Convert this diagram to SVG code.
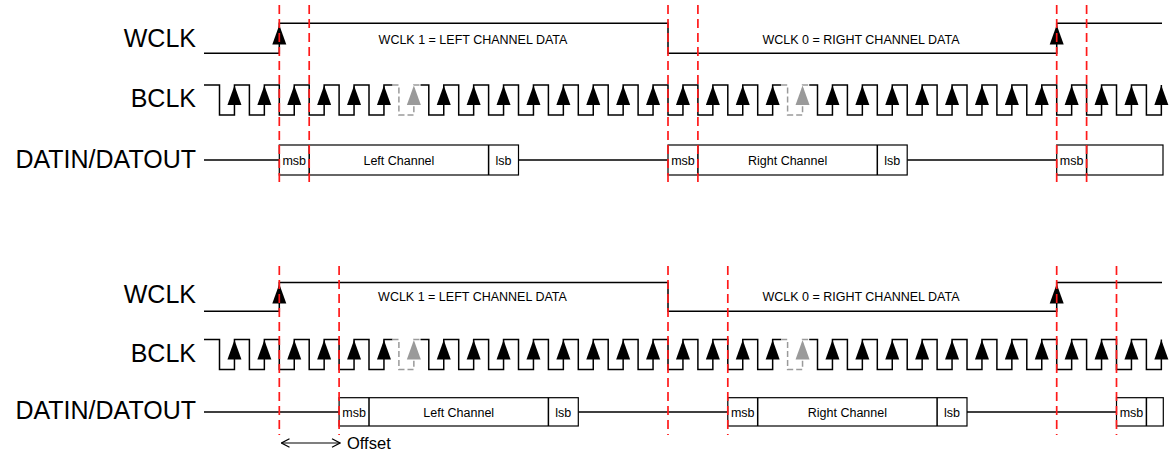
<svg xmlns="http://www.w3.org/2000/svg" xmlns:xlink="http://www.w3.org/1999/xlink" width="1171" height="454" viewBox="0 0 1171 454">
<style>
.sig{fill:none;stroke:#000;stroke-width:1.5}
.gry{fill:none;stroke:#9a9a9a;stroke-width:1.5;stroke-dasharray:6 3}
.box{fill:#fff;stroke:#000;stroke-width:1.2}
.red{stroke:#ff1a1a;stroke-width:1.7;stroke-dasharray:9 5}
.lbl{font-family:"Liberation Sans",Arial,sans-serif;font-size:25px;fill:#000;text-anchor:end}
.sm{font-family:"Liberation Sans",Arial,sans-serif;font-size:12.5px;fill:#000;text-anchor:middle}
.off{font-family:"Liberation Sans",Arial,sans-serif;font-size:16.5px;fill:#000}
</style>
<defs>
<path id="up" d="M0,0.5 L7,20 L-7,20 Z" fill="#000"/>
<path id="upg" d="M0,0.5 L7,20 L-7,20 Z" fill="#9a9a9a"/>
<path id="upw" d="M0,0 L7,19.5 L-7,19.5 Z" fill="#000"/>
<marker id="oa" viewBox="0 0 10 10" refX="9" refY="5" markerWidth="10" markerHeight="10" markerUnits="userSpaceOnUse" orient="auto-start-reverse">
<path d="M1,0.8 L9,5 L1,9.2" fill="none" stroke="#000" stroke-width="1.2"/>
</marker>
<g id="bclk">
<path class="sig" d="M204,0 H219.5 V30 H234.45 V0 H249.4 V30 H264.35 V0 H279.3 V30 H294.25 V0 H309.2 V30 H324.15 V0 H339.1 V30 H354.05 V0 H369 V30 H383.95 V0 H392.5"/>
<path class="gry" d="M392.5,0 H398.9 V30 H413.85 V0 H420.5"/>
<path class="sig" d="M420.5,0 H428.8 V30 H443.75 V0 H458.7 V30 H473.65 V0 H488.6 V30 H503.55 V0 H518.5 V30 H533.45 V0 H548.4 V30 H563.35 V0 H578.3 V30 H593.25 V0 H608.2 V30 H623.15 V0 H638.1 V30 H653.05 V0 H668 V30 H682.95 V0 H697.9 V30 H712.85 V0 H727.8 V30 H742.75 V0 H757.7 V30 H772.65 V0 H781.2"/>
<path class="gry" d="M781.2,0 H787.6 V30 H802.55 V0 H809.2"/>
<path class="sig" d="M809.2,0 H817.5 V30 H832.45 V0 H847.4 V30 H862.35 V0 H877.3 V30 H892.25 V0 H907.2 V30 H922.15 V0 H937.1 V30 H952.05 V0 H967 V30 H981.95 V0 H996.9 V30 H1011.85 V0 H1026.8 V30 H1041.75 V0 H1056.7 V30 H1071.65 V0 H1086.6 V30 H1101.55 V0 H1116.5 V30 H1131.45 V0 H1146.4 V30 H1161.35 V0"/>
<use href="#up" x="234.45"/><use href="#up" x="264.35"/><use href="#up" x="294.25"/><use href="#up" x="324.15"/><use href="#up" x="354.05"/><use href="#up" x="383.95"/>
<use href="#upg" x="413.85"/>
<use href="#up" x="443.75"/><use href="#up" x="473.65"/><use href="#up" x="503.55"/><use href="#up" x="533.45"/><use href="#up" x="563.35"/><use href="#up" x="593.25"/><use href="#up" x="623.15"/><use href="#up" x="653.05"/><use href="#up" x="682.95"/><use href="#up" x="712.85"/><use href="#up" x="742.75"/><use href="#up" x="772.65"/>
<use href="#upg" x="802.55"/>
<use href="#up" x="832.45"/><use href="#up" x="862.35"/><use href="#up" x="892.25"/><use href="#up" x="922.15"/><use href="#up" x="952.05"/><use href="#up" x="981.95"/><use href="#up" x="1011.85"/><use href="#up" x="1041.75"/><use href="#up" x="1071.65"/><use href="#up" x="1101.55"/><use href="#up" x="1131.45"/><use href="#up" x="1161.35"/>
</g>
</defs>
<rect width="1171" height="454" fill="#fff"/>

<g id="top">
<g id="top-labels">
<text class="lbl" x="196" y="47.3">WCLK</text>
<text class="lbl" x="196" y="107.3">BCLK</text>
<text class="lbl" x="196" y="168.3">DATIN/DATOUT</text>
</g>
<g id="top-wclk">
<path class="sig" d="M204,53.3 H279.3 V23.3 H668 V53.3 H1056.7 V23.3 H1162"/>
<use href="#upw" x="279.3" y="25"/>
<use href="#upw" x="1056.7" y="25"/>
<text class="sm" x="473" y="43.5">WCLK 1 = LEFT CHANNEL DATA</text>
<text class="sm" x="861" y="43.5">WCLK 0 = RIGHT CHANNEL DATA</text>
</g>
<g id="top-bclk">
<use href="#bclk" transform="translate(0,85)"/>
</g>
<g id="top-data">
<path class="sig" d="M204,160 H279.3 M518.5,160 H668 M907.2,160 H1056.7"/>
<rect class="box" x="279.3" y="145" width="239.2" height="30"/>
<path class="sig" d="M309.2,145 V175 M488.6,145 V175"/>
<rect class="box" x="668" y="145" width="239.2" height="30"/>
<path class="sig" d="M697.9,145 V175 M877.3,145 V175"/>
<rect class="box" x="1056.7" y="145" width="106.3" height="30"/>
<path class="sig" d="M1086.6,145 V175"/>
<text class="sm" x="294.25" y="164.5">msb</text>
<text class="sm" x="398.9" y="164.5">Left Channel</text>
<text class="sm" x="503.55" y="164.5">lsb</text>
<text class="sm" x="682.95" y="164.5">msb</text>
<text class="sm" x="787.6" y="164.5">Right Channel</text>
<text class="sm" x="892.25" y="164.5">lsb</text>
<text class="sm" x="1071.65" y="164.5">msb</text>
</g>
</g>

<g id="bottom">
<g id="bot-labels">
<text class="lbl" x="196" y="303.3">WCLK</text>
<text class="lbl" x="196" y="361.7">BCLK</text>
<text class="lbl" x="196" y="419">DATIN/DATOUT</text>
</g>
<g id="bot-wclk">
<path class="sig" d="M204,311.3 H279.3 V282.5 H668 V311.3 H1056.7 V282.5 H1162"/>
<use href="#upw" x="279.3" y="284"/>
<use href="#upw" x="1056.7" y="284"/>
<text class="sm" x="472.5" y="300.7">WCLK 1 = LEFT CHANNEL DATA</text>
<text class="sm" x="861" y="300.7">WCLK 0 = RIGHT CHANNEL DATA</text>
</g>
<g id="bot-bclk">
<use href="#bclk" transform="translate(0,339.5)"/>
</g>
<g id="bot-data">
<path class="sig" d="M204,412 H339.1 M578.3,412 H727.8 M967,412 H1116.5"/>
<rect class="box" x="339.1" y="397.7" width="239.2" height="28.3"/>
<path class="sig" d="M369,397.7 V426 M548.4,397.7 V426"/>
<rect class="box" x="727.8" y="397.7" width="239.2" height="28.3"/>
<path class="sig" d="M757.7,397.7 V426 M937.1,397.7 V426"/>
<rect class="box" x="1116.5" y="397.7" width="46.8" height="28.3"/>
<path class="sig" d="M1146.4,397.7 V426"/>
<text class="sm" x="354.05" y="416.5">msb</text>
<text class="sm" x="458.7" y="416.5">Left Channel</text>
<text class="sm" x="563.35" y="416.5">lsb</text>
<text class="sm" x="742.75" y="416.5">msb</text>
<text class="sm" x="847.4" y="416.5">Right Channel</text>
<text class="sm" x="952.05" y="416.5">lsb</text>
<text class="sm" x="1131.45" y="416.5">msb</text>
</g>
<g id="offset">
<line x1="281.5" y1="443" x2="340" y2="443" stroke="#000" stroke-width="1.2" marker-start="url(#oa)" marker-end="url(#oa)"/>
<text class="off" x="347" y="448.5">Offset</text>
</g>
</g>

<g id="connectors">
<path class="red" d="M279.3,5 V186 M309.2,5 V186 M668,5 V186 M697.9,5 V186 M1056.7,5 V186 M1086.6,5 V186"/>
<path class="red" d="M279.3,266 V435 M339.1,266 V435 M668,266 V435 M727.8,266 V435 M1056.7,266 V435 M1116.5,266 V435"/>
</g>
</svg>
